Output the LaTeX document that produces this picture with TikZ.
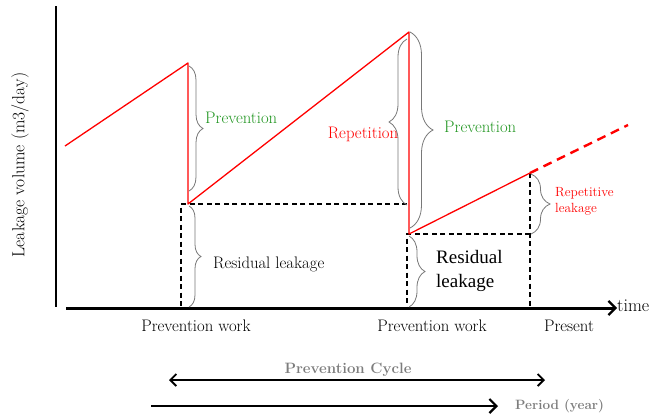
\documentclass[tikz,border=0pt]{standalone}
\usepackage{fontspec}
\newfontfamily\timesfont{Liberation Serif}
\usetikzlibrary{arrows.meta,decorations.pathreplacing}
\definecolor{labelgreen}{RGB}{34,150,34}
\definecolor{bracegray}{RGB}{120,120,120}
\definecolor{notegray}{RGB}{125,125,125}
\begin{document}
\begin{tikzpicture}[x=1pt,y=-1pt,
  leak/.style={red, line width=1.3pt},
  leakahead/.style={red, line width=2.4pt, dash pattern=on 9pt off 6pt},
  guide/.style={black, line width=2.2pt, dash pattern=on 5pt off 3.5pt},
  gbrace/.style={decorate, decoration={brace, amplitude=#1}, draw=bracegray, line width=0.8pt},
  lbl/.style={font=\fontsize{16.7}{20}\selectfont, inner sep=0pt},
  note/.style={font=\fontsize{15}{18}\selectfont\bfseries, text=notegray, inner sep=0pt},
  axisline/.style={black, line width=3pt},
  barb/.style={-{Straight Barb[length=7pt,width=14pt,line width=2.2pt]}},
  cyclebarbs/.style={{Straight Barb[length=6pt,width=12pt,line width=1.8pt]}-{Straight Barb[length=6pt,width=12pt,line width=1.8pt]}}
]
\useasboundingbox (0,0) rectangle (653,416);

% axes
\coordinate (ytop) at (56,6);
\coordinate (ybot) at (56,307);
\coordinate (xstart) at (66,308);
\coordinate (xend) at (617,308);
\draw[line width=1.1pt] (ytop) -- (ybot);
\draw[axisline, barb] (xstart) -- (xend);
\node[lbl, anchor=west, font=\fontsize{18}{20}\selectfont] (timelbl) at (617,306) {time};
\node[lbl, rotate=90, font=\fontsize{17.5}{20}\selectfont] (ylbl) at (20,165) {Leakage volume (m3/day)};

% leakage curve points
\coordinate (start) at (65,146);
\coordinate (peakA) at (188,63);
\coordinate (baseA) at (188,204);
\coordinate (peakB) at (409,32);
\coordinate (baseB) at (409,234);
\coordinate (now) at (530,173);
\coordinate (future) at (628,125);

% residual levels
\coordinate (resA) at (181,204);
\coordinate (resAfoot) at (181,307);
\coordinate (resAend) at (407,204);
\coordinate (resB) at (407,234);
\coordinate (resBfoot) at (407,307);
\coordinate (resBend) at (530,234);
\coordinate (nowfoot) at (530,307);

\draw[guide] (resAend) -- (resA) -- (resAfoot);
\draw[guide] (resBend) -- (resB) -- (resBfoot);
\draw[guide] (now) -- (nowfoot);

\draw[leak, line join=round] (start) -- (peakA) -- (baseA) -- (peakB) -- (baseB) -- (now);
\draw[leakahead] (now) -- (future);

% braces
\draw[gbrace=14] (189,66) -- (189,191);
\draw[gbrace=12] (189,206) -- (189,307);
\draw[gbrace=18] (407,205) -- (407,39);
\draw[gbrace=23] (410,32) -- (410,228);
\draw[gbrace=19] (531,174) -- (531,234);
\draw[gbrace=16] (409,236) -- (409,307);

% labels
\node[lbl, anchor=west, text=labelgreen] (prevA) at (205,118) {Prevention};
\node[lbl, anchor=west] (residA) at (213,264) {Residual leakage};
\node[lbl, text=red] (repet) at (363,134) {Repetition};
\node[lbl, anchor=west, text=labelgreen] (prevB) at (444,127) {Prevention};
\node[anchor=west, align=left, text=red, inner sep=0pt,
      font=\fontsize{13.3}{16}\selectfont] (repleak) at (555,201) {Repetitive\\leakage};
\node[anchor=west, align=left, inner sep=0pt,
      font=\timesfont\fontsize{19}{24}\selectfont] (residB) at (436,271) {Residual\\leakage};

\node[lbl] (workA) at (196,326) {Prevention work};
\node[lbl] (workB) at (432,326) {Prevention work};
\node[lbl] (present) at (569,326) {Present};

% cycle and period
\coordinate (cycL) at (169,380);
\coordinate (cycR) at (545,380);
\draw[line width=1.6pt, cyclebarbs] (cycL) -- (cycR);
\node[note] (cycle) at (348,370) {Prevention Cycle};
\coordinate (perL) at (151,406);
\coordinate (perR) at (498,406);
\draw[line width=2.6pt, barb] (perL) -- (perR);
\node[note, anchor=west, font=\fontsize{13.5}{16}\selectfont\bfseries] (period) at (515,406) {Period (year)};
\end{tikzpicture}
\end{document}
